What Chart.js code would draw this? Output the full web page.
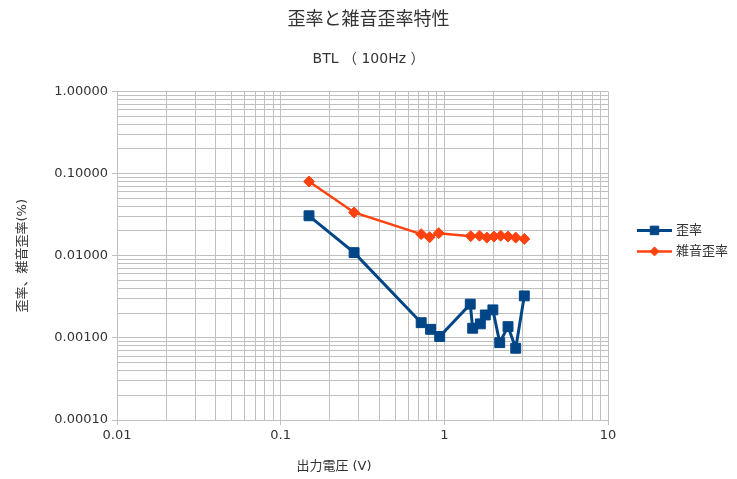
<!DOCTYPE html>
<html>
<head>
<meta charset="utf-8">
<script src="https://cdn.jsdelivr.net/npm/chart.js@4/dist/chart.umd.min.js"></script>
<style>
  html, body { margin: 0; padding: 0; background: #ffffff; }
  #wrap { width: 737px; height: 479px; }
</style>
</head>
<body>
<div id="wrap"><canvas id="chart" width="737" height="479"></canvas></div>
<script>
// Texts
const chartTitle = '歪率と雑音歪率特性';
const chartSubtitle = 'BTL （ 100Hz ）';
const xAxisTitle = '出力電圧 (V)';
const yAxisTitle = '歪率、雑音歪率(%)';
const seriesNames = ['歪率', '雑音歪率'];

// 歪率 (THD) measurements: output voltage [V] and distortion [%]
const thdVolts  = [0.149, 0.281, 0.722, 0.824, 0.937, 1.44, 1.49, 1.66, 1.78, 1.98, 2.18, 2.45, 2.73, 3.08];
const thdValues = [0.0306, 0.0109, 0.00153, 0.00127, 0.00104, 0.00257, 0.00131, 0.00148, 0.00190, 0.00219, 0.000875, 0.00137, 0.000747, 0.00324];

// 雑音歪率 (THD+N) measurements
const noiseVolts  = [0.149, 0.281, 0.722, 0.813, 0.924, 1.45, 1.64, 1.82, 2.01, 2.21, 2.45, 2.73, 3.08];
const noiseValues = [0.0801, 0.0336, 0.0183, 0.0168, 0.0188, 0.0173, 0.0175, 0.0166, 0.0171, 0.0175, 0.0171, 0.0166, 0.0160];

// Decade tick labels
const xTickValues = [0.01, 0.1, 1, 10];
const yTickValues = [0.0001, 0.001, 0.01, 0.1, 1];

const seriesColors = ['#004586', '#ff420e'];
const fontStack = "'DejaVu Sans', 'Noto Sans CJK JP', sans-serif";
const textColor = '#333333';
const gridColor = '#c0c0c0';

// Full log grid: every 1..9 multiple inside each decade
function logGrid(decades) {
  const out = [];
  for (let i = 0; i < decades.length; i++) {
    const d = decades[i];
    out.push({ value: d, major: true });
    if (i < decades.length - 1) {
      for (let m = 2; m <= 9; m++) out.push({ value: +(d * m).toPrecision(6), major: false });
    }
  }
  return out;
}
const isDecade = (v, list) => list.some(d => Math.abs(d - v) / d < 1e-9);

const toPoints = (xs, ys) => xs.map((x, i) => ({ x: x, y: ys[i] }));

// Legend drawn beside the plot: short line with the series marker, then the name
const sideLegend = {
  id: 'sideLegend',
  afterDraw(chart) {
    const ctx = chart.ctx;
    const area = chart.chartArea;
    const x0 = area.right + 29;
    const x1 = x0 + 35;
    const rows = [area.top + 139, area.top + 160];
    ctx.save();
    chart.data.datasets.forEach((ds, i) => {
      const y = rows[i];
      ctx.strokeStyle = ds.borderColor;
      ctx.lineWidth = ds.borderWidth;
      ctx.beginPath();
      ctx.moveTo(x0, y);
      ctx.lineTo(x1, y);
      ctx.stroke();
      ctx.fillStyle = ds.backgroundColor;
      ctx.lineWidth = 1;
      Chart.helpers.drawPoint(ctx, {
        pointStyle: ds.pointStyle,
        radius: ds.pointRadius - 1,
        rotation: 0,
        borderWidth: 1
      }, (x0 + x1) / 2, y);
      ctx.fillStyle = textColor;
      ctx.font = '13px ' + fontStack;
      ctx.textAlign = 'left';
      ctx.textBaseline = 'middle';
      ctx.fillText(ds.label, x1 + 4, y);
    });
    ctx.restore();
  }
};

// X axis title placed under the plot
const xTitlePlugin = {
  id: 'xTitlePlugin',
  afterDraw(chart) {
    const ctx = chart.ctx;
    const area = chart.chartArea;
    ctx.save();
    ctx.fillStyle = textColor;
    ctx.font = '13px ' + fontStack;
    ctx.textAlign = 'center';
    ctx.textBaseline = 'middle';
    ctx.fillText(xAxisTitle, area.left + 217, area.bottom + 47);
    ctx.restore();
  }
};

new Chart(document.getElementById('chart'), {
  type: 'scatter',
  data: {
    datasets: [
      {
        label: seriesNames[0],
        data: toPoints(thdVolts, thdValues),
        showLine: true,
        borderColor: seriesColors[0],
        backgroundColor: seriesColors[0],
        borderWidth: 3,
        pointStyle: 'rect',
        pointRadius: 7,
        pointHoverRadius: 7,
        pointBorderWidth: 1,
        tension: 0
      },
      {
        label: seriesNames[1],
        data: toPoints(noiseVolts, noiseValues),
        showLine: true,
        borderColor: seriesColors[1],
        backgroundColor: seriesColors[1],
        borderWidth: 2.5,
        pointStyle: 'rectRot',
        pointRadius: 5.5,
        pointHoverRadius: 5.5,
        pointBorderWidth: 1,
        tension: 0
      }
    ]
  },
  options: {
    responsive: false,
    animation: false,
    devicePixelRatio: 1,
    layout: { padding: 0 },
    plugins: {
      legend: { display: false },
      tooltip: { enabled: false },
      title: {
        display: true,
        text: chartTitle,
        color: textColor,
        font: { family: fontStack, size: 18, weight: 'normal', lineHeight: 1.2 },
        padding: { top: 10, bottom: 19 }
      },
      subtitle: {
        display: true,
        text: chartSubtitle,
        color: textColor,
        font: { family: fontStack, size: 14, weight: 'normal', lineHeight: 1.2 },
        padding: { top: 0, bottom: 24 }
      }
    },
    scales: {
      x: {
        type: 'logarithmic',
        min: xTickValues[0],
        max: xTickValues[xTickValues.length - 1],
        afterBuildTicks: (scale) => { scale.ticks = logGrid(xTickValues); },
        afterFit: (scale) => { scale.height = 59; },
        border: { display: true, color: gridColor, width: 1 },
        grid: {
          color: gridColor,
          lineWidth: 1,
          drawTicks: true,
          tickLength: 5,
          tickColor: (ctx) => (ctx.tick && isDecade(ctx.tick.value, xTickValues)) ? gridColor : 'rgba(0,0,0,0)'
        },
        ticks: {
          autoSkip: false,
          maxRotation: 0,
          color: textColor,
          padding: 3,
          font: { family: fontStack, size: 13 },
          callback: (v) => isDecade(v, xTickValues) ? String(+v.toPrecision(3)) : ''
        },
        title: { display: false }
      },
      y: {
        type: 'logarithmic',
        position: 'left',
        min: yTickValues[0],
        max: yTickValues[yTickValues.length - 1],
        afterBuildTicks: (scale) => { scale.ticks = logGrid(yTickValues); },
        afterFit: (scale) => { scale.width = 117; },
        border: { display: true, color: gridColor, width: 1 },
        grid: {
          color: gridColor,
          lineWidth: 1,
          drawTicks: true,
          tickLength: 5,
          tickColor: (ctx) => (ctx.tick && isDecade(ctx.tick.value, yTickValues)) ? gridColor : 'rgba(0,0,0,0)'
        },
        ticks: {
          autoSkip: false,
          color: textColor,
          padding: 4,
          font: { family: fontStack, size: 13 },
          callback: (v) => isDecade(v, yTickValues) ? Number(v).toFixed(5) : ''
        },
        title: {
          display: true,
          text: yAxisTitle,
          color: textColor,
          font: { family: fontStack, size: 13, lineHeight: 1.2 },
          padding: { top: 15, bottom: 0 }
        }
      },
      // empty strip on the right that holds the legend
      legendSpace: {
        type: 'linear',
        position: 'right',
        min: 0,
        max: 1,
        afterFit: (scale) => { scale.width = 129; },
        grid: { display: false, drawOnChartArea: false },
        border: { display: false },
        ticks: { display: false }
      }
    }
  },
  plugins: [sideLegend, xTitlePlugin]
});
</script>
</body>
</html>
